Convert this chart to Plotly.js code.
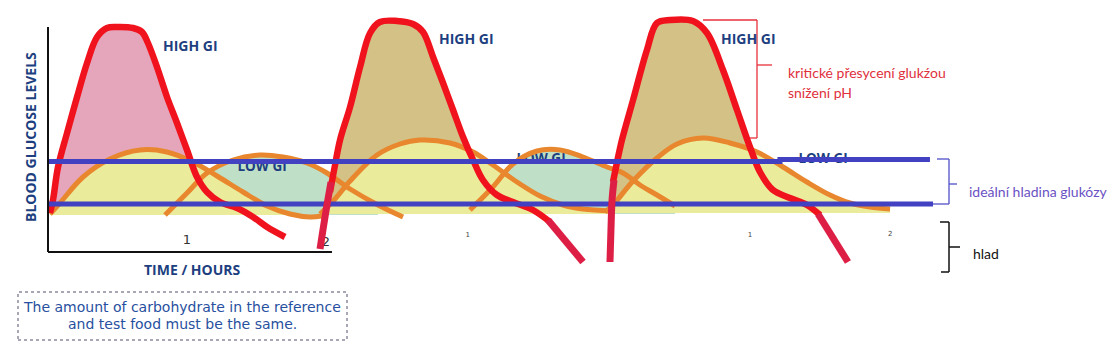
<!DOCTYPE html>
<html><head><meta charset="utf-8">
<script src="https://cdn.plot.ly/plotly-3.0.1.min.js"></script>
<style>html,body{margin:0;padding:0;background:#fff}#chart{width:1112px;height:352px}</style>
</head><body><div id="chart"></div>
<script>
// ---- data: time in hours, blood glucose in arbitrary level units ----
const red1X = [0.014,0.036,0.072,0.137,0.209,0.281,0.353,0.424,0.496,0.612,0.676,0.719,0.784,0.856,0.928,1.0,1.072,1.144,1.237,1.360,1.475,1.576,1.705];
const red1Y = [1.95,2.6,4.25,5.95,7.75,9.45,10.75,11.2,11.25,11.2,11.0,10.45,9.25,7.75,6.45,5.1,3.75,3.0,2.5,2.2,1.75,1.25,0.75];

const red2X = [2.029,2.065,2.101,2.173,2.245,2.317,2.388,2.511,2.626,2.698,2.770,2.842,2.914,2.986,3.058,3.129,3.230,3.345,3.489,3.612];
const red2Y = [3.0,4.35,5.6,7.25,9.25,10.95,11.5,11.55,11.4,11.0,9.75,8.45,7.1,5.75,4.6,3.6,2.85,2.5,2.1,1.5];
const rise2X = [1.957,1.978,2.007,2.036];
const rise2Y = [0.15,1.1,2.35,3.5];
const tail2X = [3.597,3.719,3.849];
const tail2Y = [1.6,0.6,-0.5];

const red3X = [4.065,4.094,4.129,4.209,4.309,4.381,4.475,4.640,4.741,4.856,4.957,5.050,5.122,5.216,5.338,5.460,5.554];
const red3Y = [3.5,4.5,5.6,7.6,10.1,11.45,11.6,11.55,10.95,9.1,7.1,5.25,4.0,3.1,2.7,2.35,1.85];
const rise3X = [4.043,4.050,4.058,4.072];
const rise3Y = [-0.5,1.1,2.6,3.6];
const tail3X = [5.540,5.647,5.755];
const tail3Y = [1.9,0.7,-0.5];

const lowA1X = [0.014,0.086,0.252,0.446,0.662,0.856,1.043,1.216,1.403,1.576,1.741,1.885,1.971];
const lowA1Y = [1.9,2.45,3.75,4.65,5.1,5.0,4.5,3.8,3.0,2.3,1.9,1.75,1.8];
const lowB1X = [0.842,1.0,1.144,1.331,1.525,1.691,1.863,2.007,2.173,2.374,2.554];
const lowB1Y = [1.85,2.95,3.95,4.6,4.85,4.75,4.45,3.95,3.15,2.35,1.75];
const lowA2X = [1.957,2.065,2.173,2.367,2.532,2.676,2.892,3.058,3.201,3.374,3.540,3.705,3.849,4.058];
const lowA2Y = [1.9,2.65,3.55,4.85,5.4,5.6,5.45,5.0,4.35,3.5,2.8,2.35,2.15,2.05];
const lowB2X = [3.036,3.201,3.345,3.518,3.683,3.849,4.022,4.137,4.259,4.381,4.511];
const lowB2Y = [2.1,3.25,4.4,5.05,5.1,4.75,4.25,3.95,3.35,2.85,2.3];
const lowA3X = [4.007,4.058,4.209,4.381,4.525,4.712,4.906,5.101,5.288,5.460,5.626,5.770,5.914,6.058];
const lowA3Y = [2.0,2.3,3.55,4.7,5.4,5.7,5.45,5.0,4.25,3.5,2.85,2.45,2.25,2.15];

const idealUpperX = [0, 5.266, 5.266, 6.345];
const idealUpperY = [4.525, 4.525, 4.625, 4.625];
const idealLowerX = [0, 6.367];
const idealLowerY = [2.4, 2.4];

const tickHours = [1, 2];
const tickLabels = ['1', '2'];
const fragTickX = [3.02, 5.05, 6.06];
const fragTickLabels = ['1', '1', '2'];

const highLabelX = [1.022, 3.014, 5.043];
const highLabelY = [10.35, 10.7, 10.7];
const lowLabelX = [1.54, 3.547, 5.576];
const lowLabelY = [4.2, 4.6, 4.6];

// ---- styling ----
const RED = '#f0131e', CRIMSON = '#de1f45', ORANGE = '#e8872e', BLUE = '#4141c1';
const NAVY = '#1d3f80';
const FILL_TEAL = '#bfe0c6', FILL_PINK = '#e5a6bb', FILL_YEL = '#ebeb9c', FILL_KHAKI = '#d3c185';

const traces = [];
function fillUnder(xs, ys, base, color, pre) {
  let fx = [], fy = [];
  if (pre) { for (let i = 0; i < pre.x.length; i++) if (pre.y[i] >= base && pre.y[i] < ys[0]) { fx.push(pre.x[i]); fy.push(pre.y[i]); } }
  for (let i = 0; i < xs.length; i++) if (ys[i] >= base) { fx.push(xs[i]); fy.push(ys[i]); }
  traces.push({x: [fx[0], fx[fx.length - 1]], y: [base, base], mode: 'lines', line: {width: 0}, hoverinfo: 'skip'});
  traces.push({x: fx, y: fy, mode: 'lines', fill: 'tonexty', fillcolor: color,
    line: {width: 0, shape: 'spline', smoothing: 1}, hoverinfo: 'skip'});
}
function line(xs, ys, color, width, spline) {
  traces.push({x: xs, y: ys, mode: 'lines', hoverinfo: 'skip',
    line: {color: color, width: width, shape: spline ? 'spline' : 'linear', smoothing: 1}});
}

fillUnder(lowB1X, lowB1Y, 1.85, FILL_TEAL);
fillUnder(red1X, red1Y, 1.85, FILL_PINK);
fillUnder(lowA1X, lowA1Y, 1.85, FILL_YEL);
fillUnder(lowB2X, lowB2Y, 1.9, FILL_TEAL);
fillUnder(red2X, red2Y, 1.9, FILL_KHAKI, {x: rise2X, y: rise2Y});
fillUnder(lowA2X, lowA2Y, 1.9, FILL_YEL);
fillUnder(red3X, red3Y, 1.95, FILL_KHAKI, {x: rise3X, y: rise3Y});
fillUnder(lowA3X, lowA3Y, 1.95, FILL_YEL);

// text under the lines
traces.push({x: lowLabelX, y: lowLabelY, mode: 'text', text: lowLabelX.map(() => '<b>LOW GI</b>'),
  textfont: {family: 'Open Sans', size: 13.5, color: NAVY}, hoverinfo: 'skip'});
traces.push({x: tickHours, y: [0.55, 0.45], mode: 'text', text: tickLabels,
  textfont: {family: 'DejaVu Sans', size: 13, color: '#333'}, hoverinfo: 'skip'});
traces.push({x: fragTickX, y: [0.85, 0.85, 0.9], mode: 'text', text: fragTickLabels,
  textfont: {family: 'DejaVu Sans', size: 7, color: '#444'}, hoverinfo: 'skip'});

line(lowA1X, lowA1Y, ORANGE, 5, true);
line(lowB1X, lowB1Y, ORANGE, 5, true);
line(lowA2X, lowA2Y, ORANGE, 5, true);
line(lowB2X, lowB2Y, ORANGE, 5, true);
line(lowA3X, lowA3Y, ORANGE, 5, true);
line(red1X, red1Y, RED, 6.5, true);
line(red2X, red2Y, RED, 6.5, true);
line(red3X, red3Y, RED, 6.5, true);
line(idealUpperX, idealUpperY, BLUE, 5, false);
line(idealLowerX, idealLowerY, BLUE, 5, false);
line(rise2X, rise2Y, CRIMSON, 7, true);
line(tail2X, tail2Y, CRIMSON, 7, false);
line(rise3X, rise3Y, CRIMSON, 7, true);
line(tail3X, tail3Y, CRIMSON, 7, false);

// ---- layout helpers (pixel -> paper) ----
const W = 1112, H = 352;
const PX = v => v / W, PY = v => 1 - v / H;
function seg(x0, y0, x1, y1, color, w, dash) {
  return {type: 'line', xref: 'paper', yref: 'paper', x0: PX(x0), y0: PY(y0), x1: PX(x1), y1: PY(y1),
    line: {color: color, width: w, dash: dash || 'solid'}};
}
const shapes = [
  // panel axes
  {type: 'line', xref: 'x', yref: 'y', x0: 0, y0: 0, x1: 0, y1: 11.25, line: {color: '#111', width: 2}},
  {type: 'line', xref: 'x', yref: 'y', x0: 0, y0: 0, x1: 2.043, y1: 0, line: {color: '#111', width: 2}},
  // red bracket
  seg(703, 20, 757, 20, '#e8303c', 1.3), seg(757, 20, 757, 138, '#e8303c', 1.3),
  seg(750, 138, 757, 138, '#e8303c', 1.3), seg(757, 65, 772, 65, '#e8303c', 1.3),
  // blue bracket
  seg(937, 159, 949, 159, '#5050c8', 1.3), seg(949, 159, 949, 204, '#5050c8', 1.3),
  seg(933, 204, 949, 204, '#5050c8', 1.3), seg(949, 184, 957, 184, '#5050c8', 1.3),
  // black bracket
  seg(940, 222, 949, 222, '#111', 1.5), seg(949, 222, 949, 272, '#111', 1.5),
  seg(941, 272, 949, 272, '#111', 1.5), seg(949, 247, 960, 247, '#111', 1.5),
  // note box
  {type: 'rect', xref: 'paper', yref: 'paper', x0: PX(18), y0: PY(340), x1: PX(347), y1: PY(292),
    line: {color: '#50506e', width: 1, dash: 'dot'}, fillcolor: 'rgba(0,0,0,0)'}
];

const annotations = [];
function ann(x, y, text, font, xanchor, extra) {
  annotations.push(Object.assign({xref: 'paper', yref: 'paper', x: PX(x), y: PY(y), text: text,
    showarrow: false, xanchor: xanchor || 'center', yanchor: 'middle', font: font}, extra || {}));
}
highLabelX.forEach((x, i) => annotations.push({xref: 'x', yref: 'y', x: x, y: highLabelY[i], text: '<b>HIGH GI</b>',
  showarrow: false, xanchor: 'center', yanchor: 'middle', font: {family: 'Open Sans', size: 14, color: NAVY}}));
ann(30, 137, '<b>BLOOD GLUCOSE LEVELS</b>', {family: 'Open Sans', size: 14, color: NAVY}, 'center', {textangle: -90});
ann(192, 269, '<b>TIME / HOURS</b>', {family: 'Open Sans', size: 14, color: NAVY});
ann(182, 307, 'The amount of carbohydrate in the reference', {family: 'DejaVu Sans', size: 14, color: '#2850a0'});
ann(182, 324, 'and test food must be the same.', {family: 'DejaVu Sans', size: 14, color: '#2850a0'});
ann(786, 72, 'kritické přesycení glukźou', {family: 'Lato', size: 14, color: '#e0303c'}, 'left');
ann(786, 92, 'snížení pH', {family: 'Lato', size: 14, color: '#e0303c'}, 'left');
ann(967, 191, 'ideální hladina glukózy', {family: 'Lato', size: 14, color: '#6a52c4'}, 'left');
ann(971, 253, 'hlad', {family: 'Lato', size: 14, color: '#111'}, 'left');

const layout = {
  width: W, height: H, margin: {l: 0, r: 0, t: 0, b: 0},
  paper_bgcolor: '#fff', plot_bgcolor: '#fff', showlegend: false,
  xaxis: {range: [-48 / 139, 1064 / 139], visible: false, fixedrange: true},
  yaxis: {range: [-5, 12.6], visible: false, fixedrange: true},
  shapes: shapes, annotations: annotations
};
Plotly.newPlot('chart', traces, layout, {staticPlot: true, displayModeBar: false});
</script></body></html>
